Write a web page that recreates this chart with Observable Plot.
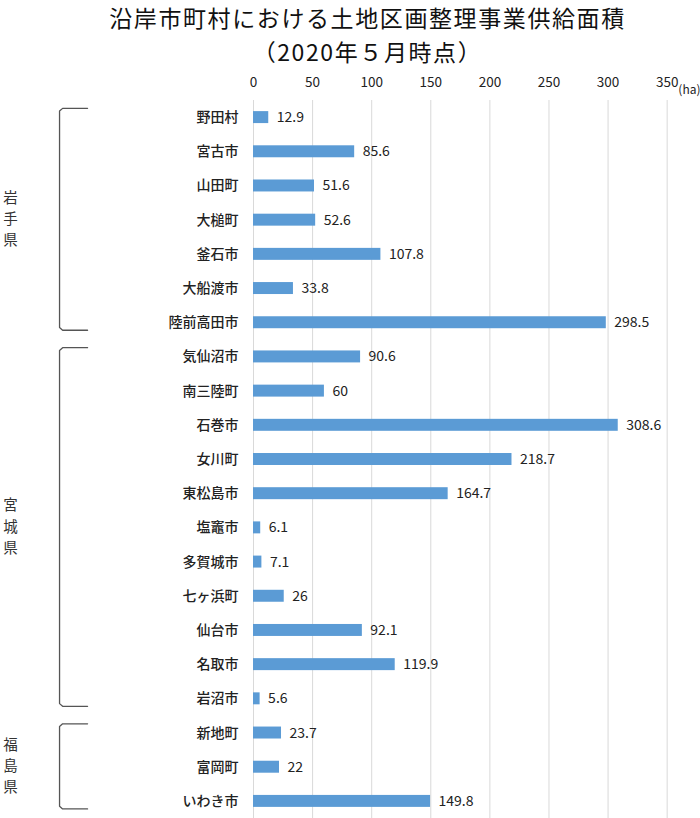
<!DOCTYPE html>
<html><head><meta charset="utf-8">
<script src="https://cdn.jsdelivr.net/npm/d3@7"></script>
<script src="https://cdn.jsdelivr.net/npm/@observablehq/plot@0.6"></script>
<style>
body{margin:0;background:#fff;font-family:"Noto Sans CJK JP",sans-serif;}
#title{width:700px;box-sizing:border-box;padding-left:35px;padding-top:1px;height:64px;overflow:visible;text-align:center;font-size:23px;letter-spacing:1.6px;line-height:33.5px;color:#111;}
#chart svg{display:block;}
</style></head><body>
<div id="title"><div>沿岸市町村における土地区画整理事業供給面積</div><div>（2020年５月時点）</div></div>
<div id="chart"></div>
<script>
const municipalities = ["野田村","宮古市","山田町","大槌町","釜石市","大船渡市","陸前高田市",
  "気仙沼市","南三陸町","石巻市","女川町","東松島市","塩竈市","多賀城市","七ヶ浜町","仙台市","名取市","岩沼市",
  "新地町","富岡町","いわき市"];
const areas = [12.9,85.6,51.6,52.6,107.8,33.8,298.5,
  90.6,60,308.6,218.7,164.7,6.1,7.1,26,92.1,119.9,5.6,
  23.7,22,149.8];
const prefectures = ["岩手県","宮城県","福島県"];
const groupSizes = [7,11,3];
const xTicks = [0,50,100,150,200,250,300,350];
const unitLabel = "(ha)";

const rows = municipalities.map((name,i)=>({name, value: areas[i], i}));
let start = 0;
const groups = prefectures.map((name,k)=>{
  const g = {name, first: start, last: start + groupSizes[k] - 1};
  start += groupSizes[k];
  g.top = g.first - 0.27; g.bottom = g.last + 0.22; g.mid = (g.top + g.bottom)/2;
  return g;
});
const bracketPts = groups.flatMap(g=>[
  {z:g.name, x:-140.4, y:g.top},
  {z:g.name, x:-161.5, y:g.top},
  {z:g.name, x:-164.1, y:g.top+0.08},
  {z:g.name, x:-164.1, y:g.bottom-0.08},
  {z:g.name, x:-161.5, y:g.bottom},
  {z:g.name, x:-140.4, y:g.bottom}
]);
const charStep = 0.62;
const labelChars = groups.flatMap(g=>{
  const cs = g.name.split("");
  return cs.map((c,j)=>({c, y: g.mid + (j - (cs.length-1)/2)*charStep}));
});

const chart = Plot.plot({
  width: 700, height: 754,
  marginTop: 36, marginBottom: 0, marginLeft: 253, marginRight: 0,
  style: {fontFamily: "Noto Sans CJK JP", fontSize: "14px", color: "#222", background: "#fff"},
  x: {domain: [0, 378.2], axis: null},
  y: {domain: [-0.5, 20.5], reverse: true, axis: null},
  marks: [
    Plot.gridX(xTicks, {stroke: "#d9d9d9", strokeOpacity: 1, strokeWidth: 1}),
    Plot.axisX(xTicks, {anchor: "top", tickSize: 0, tickPadding: 14, fontSize: 13.5, label: null}),
    Plot.text([unitLabel], {frameAnchor: "top-right", text: d=>d, textAnchor: "end", dy: -15, fontSize: 12}),
    Plot.rectX(rows, {x1: 0, x2: "value", y1: d=>d.i-0.175, y2: d=>d.i+0.175, fill: "#5b9bd5"}),
    Plot.text(rows, {x: "value", y: "i", text: d=>String(d.value), dx: 8, textAnchor: "start", fontSize: 14, fill: "#222"}),
    Plot.text(rows, {x: 0, y: "i", text: "name", dx: -15, textAnchor: "end", fontSize: 14, fontWeight: 500, fill: "#222"}),
    Plot.line(bracketPts, {x: "x", y: "y", z: "z", stroke: "#555", strokeWidth: 1.3, strokeLinejoin: "round", curve: "linear"}),
    Plot.text(labelChars, {x: -205.6, y: "y", text: "c", fontSize: 14.5, fill: "#333"})
  ]
});
document.getElementById("chart").appendChild(chart);
</script>
</body></html>
